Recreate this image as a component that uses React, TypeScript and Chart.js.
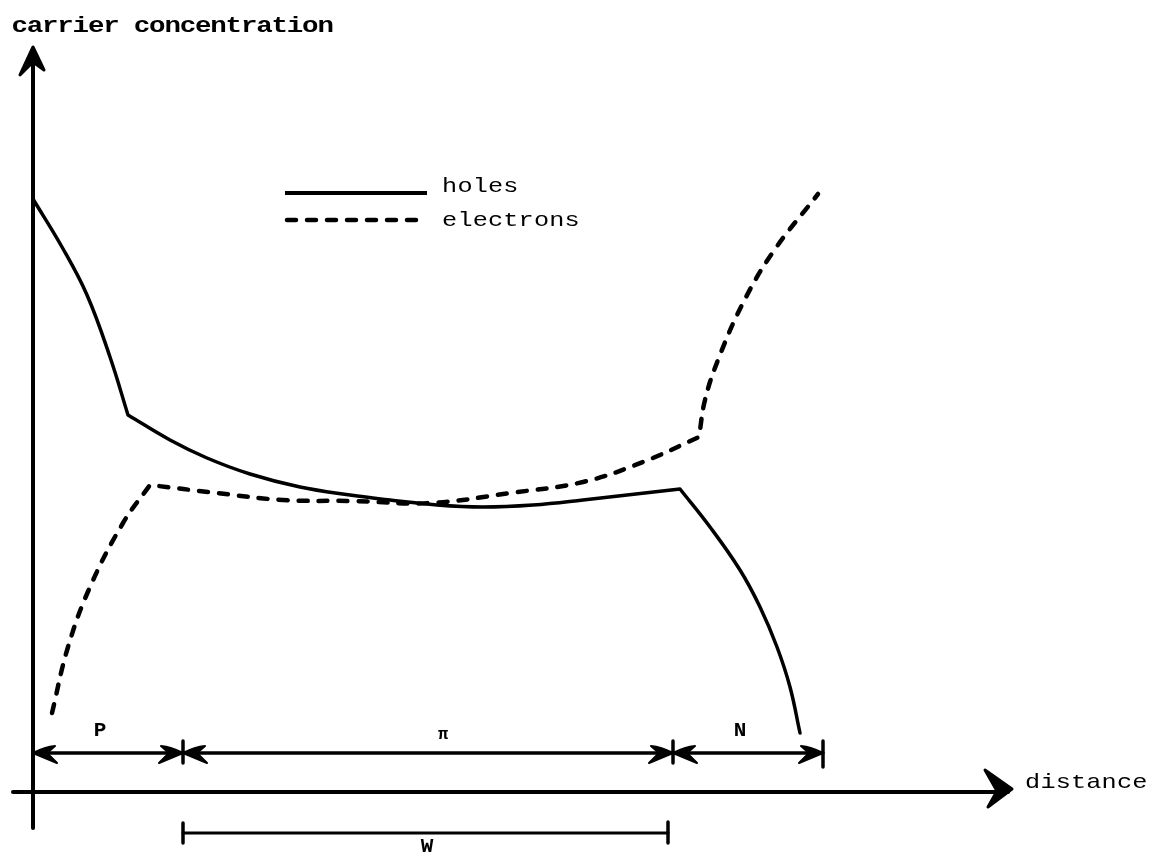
import React, { useEffect, useRef } from "react";
import { Chart, registerables } from "chart.js";

Chart.register(...registerables);

// Data units: x = distance from the vertical axis, y = height above the distance axis
// (corner points are listed twice so the curve keeps its sharp bend there)
const holesX = [0, 29, 54, 77, 95, 95, 137, 174, 217, 267, 317, 357, 404, 450, 500, 550, 647, 647, 677, 707, 727, 744, 757, 767];
const holesY = [593, 545, 497, 435, 377, 377, 352, 334, 318, 305, 297, 292, 287, 285, 287, 292, 303, 303, 265, 222, 185, 145, 105, 59];

const electronsX = [19, 35, 57, 90, 117, 117, 184, 250, 320, 397, 477, 550, 610, 666, 666, 672, 685, 710, 740, 785];
const electronsY = [79, 145, 205, 269, 307, 307, 299, 292, 291, 289, 299, 310, 330, 355, 355, 392, 432, 489, 540, 598];

const seriesLabels = ["holes", "electrons"];
const axisTitles = ["carrier concentration", "distance"];
const regionBounds = [0, 150, 640, 790];
const regionNames = ["P", "π", "N"];
const regionLabelX = [67, 410, 707];
const widthBar = [150, 635];
const widthLabel = "W";

const FONT = '"Liberation Mono", "DejaVu Sans Mono", monospace';
const PITCH = 15.3;

function drawSpaced(ctx: CanvasRenderingContext2D, text: string, left: number, baseline: number, font: string, stretch: number) {
  ctx.save();
  ctx.font = font;
  ctx.textAlign = "center";
  ctx.textBaseline = "alphabetic";
  for (let i = 0; i < text.length; i++) {
    const cx = left + PITCH * (i + 0.5);
    ctx.save();
    ctx.translate(cx, baseline);
    ctx.scale(stretch, 1);
    ctx.fillText(text[i], 0, 0);
    ctx.restore();
  }
  ctx.restore();
}

const drawingPlugin = {
  id: "diagram",
  afterDatasetsDraw(chart: any) {
    const ctx: CanvasRenderingContext2D = chart.ctx;
    const xs = chart.scales.x;
    const ys = chart.scales.y;
    const X = (v: number) => xs.getPixelForValue(v);
    const Y = (v: number) => ys.getPixelForValue(v);
    ctx.save();
    ctx.strokeStyle = "#000";
    ctx.fillStyle = "#000";
    ctx.lineCap = "round";
    ctx.lineJoin = "round";

    const line = (x1: number, y1: number, x2: number, y2: number, w: number) => {
      ctx.lineWidth = w;
      ctx.beginPath();
      ctx.moveTo(X(x1), Y(y1));
      ctx.lineTo(X(x2), Y(y2));
      ctx.stroke();
    };

    // axes
    line(0, -36, 0, 735, 4);
    line(-20, 0, 975, 0, 4);
    // y axis arrow head
    ctx.lineWidth = 3;
    ctx.beginPath();
    ctx.moveTo(X(0), Y(745));
    ctx.lineTo(X(-13), Y(717));
    ctx.lineTo(X(0), Y(730));
    ctx.lineTo(X(11), Y(722));
    ctx.closePath();
    ctx.fill();
    ctx.stroke();
    // x axis arrow head
    ctx.beginPath();
    ctx.moveTo(X(979), Y(3));
    ctx.lineTo(X(952), Y(22));
    ctx.lineTo(X(964), Y(1));
    ctx.lineTo(X(955), Y(-15));
    ctx.closePath();
    ctx.fill();
    ctx.stroke();

    // dimension line for regions
    const dimY = 39;
    line(regionBounds[0], dimY, regionBounds[regionBounds.length - 1], dimY, 3.5);
    const head = (tip: number, dir: number) => {
      const tx = X(tip);
      const ty = Y(dimY);
      ctx.lineWidth = 2;
      ctx.beginPath();
      ctx.moveTo(tx, ty);
      ctx.quadraticCurveTo(tx - dir * 12, ty - 6, tx - dir * 22, ty - 7);
      ctx.lineTo(tx - dir * 14, ty);
      ctx.lineTo(tx - dir * 24, ty + 10);
      ctx.quadraticCurveTo(tx - dir * 12, ty + 5, tx, ty);
      ctx.closePath();
      ctx.fill();
      ctx.stroke();
    };
    for (let i = 0; i < regionBounds.length - 1; i++) {
      head(regionBounds[i], -1);
      head(regionBounds[i + 1], 1);
    }
    for (let i = 1; i < regionBounds.length; i++) {
      line(regionBounds[i], dimY + 12, regionBounds[i], dimY - (i === regionBounds.length - 1 ? 14 : 10), 3.5);
    }
    ctx.textAlign = "center";
    ctx.textBaseline = "alphabetic";
    for (let i = 0; i < regionNames.length; i++) {
      const isPi = regionNames[i] === "π";
      ctx.font = isPi ? `bold 17px ${FONT}` : `bold 21px ${FONT}`;
      ctx.fillText(regionNames[i], X(regionLabelX[i]), Y(dimY + (isPi ? 14 : 17)));
    }

    // W bar
    const wY = -41;
    line(widthBar[0], wY, widthBar[1], wY, 3);
    line(widthBar[0], wY + 10, widthBar[0], wY - 10, 3.5);
    line(widthBar[1], wY + 11, widthBar[1], wY - 10, 3.5);
    ctx.font = `bold 21px ${FONT}`;
    ctx.fillText(widthLabel, X(394), Y(-60));

    // titles
    drawSpaced(ctx, axisTitles[0], X(-21), Y(760), `bold 22px ${FONT}`, 1.25);
    drawSpaced(ctx, axisTitles[1], X(992), Y(4), `21px ${FONT}`, 1.2);

    // legend
    ctx.lineCap = "butt";
    ctx.lineWidth = 4;
    ctx.beginPath();
    ctx.moveTo(X(252), Y(599));
    ctx.lineTo(X(394), Y(599));
    ctx.stroke();
    ctx.lineCap = "round";
    ctx.setLineDash([9, 11]);
    ctx.lineWidth = 4.5;
    ctx.beginPath();
    ctx.moveTo(X(254), Y(572));
    ctx.lineTo(X(393), Y(572));
    ctx.stroke();
    ctx.setLineDash([]);
    drawSpaced(ctx, seriesLabels[0], X(409), Y(600), `21px ${FONT}`, 1.2);
    drawSpaced(ctx, seriesLabels[1], X(409), Y(566), `21px ${FONT}`, 1.2);

    ctx.restore();
  },
};

export default function App() {
  const canvasRef = useRef<HTMLCanvasElement | null>(null);

  useEffect(() => {
    if (!canvasRef.current) return;
    const holes = holesX.map((x, i) => ({ x, y: holesY[i] }));
    const electrons = electronsX.map((x, i) => ({ x, y: electronsY[i] }));
    const chart = new Chart(canvasRef.current, {
      type: "scatter",
      data: {
        datasets: [
          {
            label: seriesLabels[0],
            data: holes,
            showLine: true,
            borderColor: "#000",
            backgroundColor: "#000",
            borderWidth: 3.5,
            pointRadius: 0,
            tension: 0.4,
            borderJoinStyle: "round",
            borderCapStyle: "round",
          },
          {
            label: seriesLabels[1],
            data: electrons,
            showLine: true,
            borderColor: "#000",
            backgroundColor: "#000",
            borderWidth: 4.5,
            borderDash: [9, 11],
            borderCapStyle: "round",
            pointRadius: 0,
            tension: 0.4,
          },
        ],
      },
      options: {
        animation: false,
        responsive: true,
        maintainAspectRatio: false,
        layout: { padding: 0 },
        plugins: { legend: { display: false }, tooltip: { enabled: false } },
        scales: {
          x: { type: "linear", display: false, min: -33, max: 1119 },
          y: { type: "linear", display: false, min: -63, max: 792 },
        },
      },
      plugins: [drawingPlugin],
    } as any);
    return () => chart.destroy();
  }, []);

  return (
    <div style={{ position: "absolute", left: 0, top: 0, width: 1152, height: 855, background: "#fff" }}>
      <canvas ref={canvasRef} />
    </div>
  );
}
